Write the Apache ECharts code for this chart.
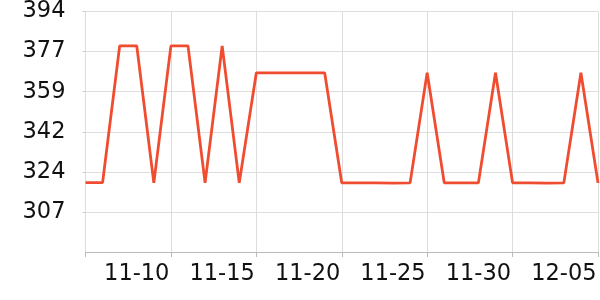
<!DOCTYPE html>
<html>
<head>
<meta charset="utf-8">
<script src="https://cdn.jsdelivr.net/npm/echarts@6/dist/echarts.min.js"></script>
<style>html,body{margin:0;padding:0;background:#fff}#c{width:600px;height:300px}</style>
</head>
<body>
<div id="c"></div>
<script>
var categories = ['11-07','11-08','11-09','11-10','11-11','11-12','11-13','11-14','11-15','11-16',
  '11-17','11-18','11-19','11-20','11-21','11-22','11-23','11-24','11-25','11-26',
  '11-27','11-28','11-29','11-30','12-01','12-02','12-03','12-04','12-05','12-06','12-07'];
var values = [319.7,319.7,379.1,379.1,319.6,379.1,379.1,319.6,379.1,319.6,
  367.4,367.4,367.4,367.4,367.4,319.6,319.6,319.6,319.5,319.6,
  367.4,319.6,319.6,319.6,367.4,319.6,319.6,319.5,319.6,367.4,319.6];
var yMin = 289.6, yMax = 394, yStep = 17.4;

var chart = echarts.init(document.getElementById('c'), null, {renderer: 'canvas'});
chart.setOption({
  animation: false,
  grid: {left: 85.5, right: 2, top: 10, bottom: 48, containLabel: false},
  xAxis: {
    type: 'category',
    data: categories,
    boundaryGap: false,
    axisLine: {show: true, lineStyle: {color: '#bbb', width: 1}},
    axisTick: {show: true, length: 5, lineStyle: {color: '#bbb'}, interval: function (i) { return i % 5 === 0; }},
    splitLine: {show: true, lineStyle: {color: '#ddd', width: 1}, interval: function (i) { return i % 5 === 0; }},
    axisLabel: {
      interval: function (i) { return i % 5 === 3; },
      fontFamily: 'DejaVu Sans', fontSize: 22.5, color: '#111', margin: 11
    }
  },
  yAxis: {
    type: 'value',
    min: yMin, max: yMax, interval: yStep,
    axisLine: {show: true, lineStyle: {color: '#ddd'}},
    axisTick: {show: true, length: 3, lineStyle: {color: '#ccc'}},
    splitLine: {show: true, lineStyle: {color: '#ddd', width: 1}},
    axisLabel: {
      showMinLabel: false,
      fontFamily: 'DejaVu Sans', fontSize: 22.5, color: '#111', margin: 20,
      formatter: function (v) { return String(Math.round(v)); }
    }
  },
  series: [{
    type: 'line',
    data: values,
    showSymbol: false,
    symbol: 'none',
    lineStyle: {color: '#f04c30', width: 2.8},
    itemStyle: {color: '#f04c30'}
  }]
});
</script>
</body>
</html>
